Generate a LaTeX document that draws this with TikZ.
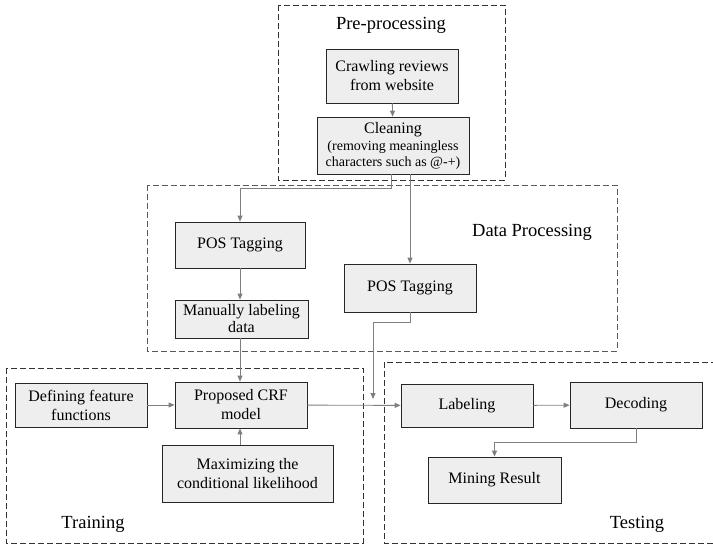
\documentclass[tikz,border=0pt]{standalone}
\usepackage{fontspec}
\setmainfont{Liberation Serif}
\usetikzlibrary{arrows.meta}
\definecolor{boxfill}{HTML}{EEEEEE}
\definecolor{conn}{HTML}{7F7F7F}
\begin{document}
\begin{tikzpicture}[x=1pt,y=-1pt,
  proc/.style={draw=black!85,fill=boxfill,line width=0.8pt,inner sep=0pt,align=center,font=\fontsize{16}{19}\selectfont},
  group/.style={draw=black!80,line width=0.8pt,dash pattern=on 6pt off 3pt},
  glabel/.style={font=\fontsize{18.5}{20}\selectfont},
  arr/.style={draw=conn,line width=0.9pt,-{Triangle[length=6pt,width=5pt]}}]
\useasboundingbox (0,0) rectangle (713,547);
% groups
\draw[group] (278,5) rectangle (505,180);
\draw[group,draw=black!65] (147,185) rectangle (617,351);
\draw[group] (6,368) rectangle (363,543);
\draw[group] (384,362) rectangle (716,543);
\node[glabel] (lpre) at (391,25) {Pre-processing};
\node[glabel] (ldata) at (532,232) {Data Processing};
\node[glabel] (ltrain) at (93,524) {Training};
\node[glabel] (ltest) at (637,524) {Testing};
% nodes
\node[proc,minimum width=132pt,minimum height=54pt] (crawl) at (392,76) {Crawling reviews\\from website};
\node[proc,minimum width=152pt,minimum height=57pt] (clean) at (393,145.5) {{\fontsize{16}{16}\selectfont Cleaning}\\[-2pt]{\fontsize{14}{15.5}\selectfont (removing meaningless}\\[-3pt]{\fontsize{14}{15.5}\selectfont characters such as @-+)}};
\node[proc,minimum width=130pt,minimum height=46pt] (pos1) at (240,245) {POS Tagging};
\node[proc,minimum width=133pt,minimum height=38pt] (manual) at (241.5,319) {Manually labeling\\[-2pt]data};
\node[proc,minimum width=132pt,minimum height=48pt] (pos2) at (410,288) {POS Tagging};
\node[proc,minimum width=132pt,minimum height=44pt] (define) at (81,405) {Defining feature\\functions};
\node[proc,minimum width=132pt,minimum height=46pt] (crf) at (241,405) {Proposed CRF\\model};
\node[proc,minimum width=171pt,minimum height=57pt] (max) at (247.5,473.5) {Maximizing the\\conditional likelihood};
\node[proc,minimum width=132pt,minimum height=43pt] (label) at (467,405.5) {Labeling};
\node[proc,minimum width=132pt,minimum height=46pt] (decode) at (636,405) {Decoding};
\node[proc,minimum width=133pt,minimum height=46pt] (mine) at (494.5,480) {Mining Result};
% connectors
\draw[arr] (crawl) -- (clean);
\coordinate (c1) at (391,188);
\draw[arr] (clean.south -| c1) -- (c1) -| (pos1.north);
\draw[arr] (clean.south -| pos2.north) -- (pos2.north);
\draw[arr] (pos1.south) -- (manual.north -| pos1.south);
\draw[arr] (manual.south -| pos1.south) -- (crf.north -| pos1.south);
\coordinate (c2) at (410,322);
\coordinate (c3) at (373,399);
\draw[arr] (pos2.south) -- (c2) -- (c2 -| c3) -- (c3);
\draw[arr] (define) -- (crf);
\draw[arr] (max.north -| pos1.south) -- (crf.south -| pos1.south);
\draw[arr] (crf) -- (label);
\draw[arr] (label) -- (decode);
\coordinate (c4) at (636,442);
\draw[arr] (decode.south) -- (c4) -| (mine.north);
\end{tikzpicture}
\end{document}
